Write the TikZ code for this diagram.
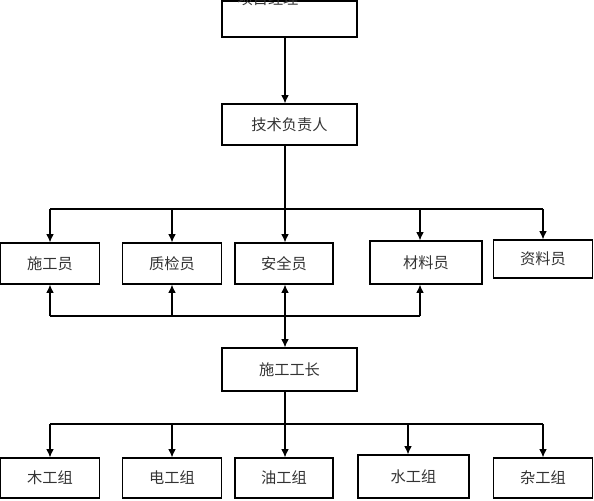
\documentclass[tikz,border=0pt]{standalone}
\usepackage{fontspec}
\newfontfamily\cjk{Noto Sans CJK SC}
\usepackage{tikz}
\usetikzlibrary{arrows.meta}
\tikzset{>={Latex[length=2.5mm,width=2.3mm]}}
\tikzstyle{box}=[draw=black,line width=1pt,inner sep=0,font=\cjk\fontsize{13}{13}\selectfont,text=black!80]

\begin{document}
\begin{tikzpicture}[x=0.03cm,y=-0.03cm,line width=1pt]
		\useasboundingbox (0,0) rectangle (594,500);
		\clip (0,0) rectangle (594,500);
		
		\node[box, minimum width=4.05cm, minimum height=1.08cm] (xmjl) at (289.5,19) {};
		\node[font=\cjk\fontsize{13}{13}\selectfont, text=black!80] (xmjltxt) at (268,-1.5) {项目经理};
		\node[box, minimum width=4.05cm, minimum height=1.23cm] (jsfz) at (289.5,124.5) {技术负责人};
		
		\node[box, minimum width=2.97cm, minimum height=1.23cm] (sgy) at (50,263.5) {施工员};
		\node[box, minimum width=2.97cm, minimum height=1.23cm] (zjy) at (172,263.5) {质检员};
		\node[box, minimum width=2.94cm, minimum height=1.23cm] (aqy) at (284,263.5) {安全员};
		\node[box, minimum width=3.36cm, minimum height=1.29cm] (cly) at (426,262.5) {材料员};
		\node[box, minimum width=2.97cm, minimum height=1.14cm] (zly) at (543,259) {资料员};
		
		\node[box, minimum width=4.05cm, minimum height=1.29cm] (sggz) at (289.5,369.5) {施工工长};
		
		\node[box, minimum width=2.97cm, minimum height=1.2cm] (mgz) at (50,478) {木工组};
		\node[box, minimum width=2.97cm, minimum height=1.2cm] (dgz) at (172,478) {电工组};
		\node[box, minimum width=2.94cm, minimum height=1.2cm] (ygz) at (284,478) {油工组};
		\node[box, minimum width=3.33cm, minimum height=1.29cm] (sgz) at (413.5,476.5) {水工组};
		\node[box, minimum width=2.97cm, minimum height=1.2cm] (zgz) at (543,478) {杂工组};
		
		\coordinate (top1) at (285,209);
		\coordinate (bot1) at (285,316);
		\coordinate (top2) at (285,424);
		\coordinate (clx) at (420,0);
		\coordinate (sgx) at (408,0);
		
		% top -> 技术负责人
		\draw[->] (xmjl.south -| top1) -- (jsfz.north -| top1);
		
		% 技术负责人 -> row of staff
		\draw (sgy.north |- top1) -- (zly.north |- top1);
		\draw[->] (jsfz.south -| top1) -- (aqy.north -| top1);
		\draw[->] (sgy.north |- top1) -- (sgy.north);
		\draw[->] (zjy.north |- top1) -- (zjy.north);
		\draw[->] (clx |- top1) -- (clx |- cly.north);
		\draw[->] (zly.north |- top1) -- (zly.north);
		
		% staff row <- 施工工长
		\draw (sgy.south |- bot1) -- (clx |- bot1);
		\draw[->] (sgy.south |- bot1) -- (sgy.south);
		\draw[->] (zjy.south |- bot1) -- (zjy.south);
		\draw[->] (clx |- bot1) -- (clx |- cly.south);
		\draw[<->] (aqy.south -| top1) -- (sggz.north -| top1);
		
		% 施工工长 -> work groups
		\draw (mgz.north |- top2) -- (zgz.north |- top2);
		\draw[->] (sggz.south -| top2) -- (ygz.north -| top2);
		\draw[->] (mgz.north |- top2) -- (mgz.north);
		\draw[->] (dgz.north |- top2) -- (dgz.north);
		\draw[->] (sgx |- top2) -- (sgx |- sgz.north);
		\draw[->] (zgz.north |- top2) -- (zgz.north);
	\end{tikzpicture}
\end{document}
